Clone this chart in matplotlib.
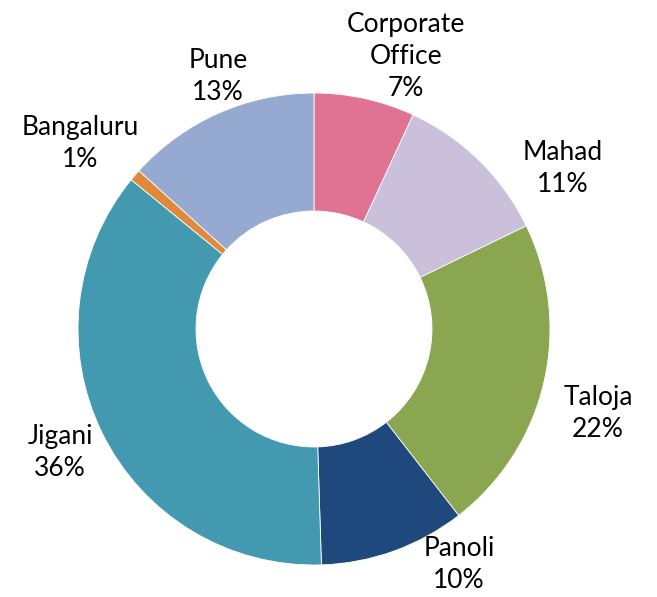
import matplotlib
matplotlib.use("Agg")
import matplotlib.pyplot as plt

sites = ["Corporate\nOffice", "Mahad", "Taloja", "Panoli", "Jigani", "Bangaluru", "Pune"]
shares = [6.9, 10.9, 21.7, 10.0, 36.4, 0.8, 13.3]
pct_labels = ["7%", "11%", "22%", "10%", "36%", "1%", "13%"]
colors = ["#E07393", "#CBC0DC", "#8BA651", "#1F497D", "#4399B0", "#E0883C", "#95A9D1"]

# where each label sits (data units, pie radius = 1)
label_pos = [(0.39, 1.153), (1.055, 0.678), (1.203, -0.356), (0.614, -1.0),
             (-1.076, -0.523), (-0.992, 0.788), (-0.407, 1.072)]

plt.rcParams['font.family'] = ['Lato', 'DejaVu Sans']

fig = plt.figure(figsize=(6.57, 5.97), dpi=100)
ax = fig.add_axes([(314 - 236) / 657, (597 - 329 - 236) / 597, 472 / 657, 472 / 597])

ax.pie(shares, colors=colors, startangle=90, counterclock=False, radius=1,
       wedgeprops=dict(width=0.5, edgecolor="white", linewidth=0.6))
ax.set_xlim(-1, 1)
ax.set_ylim(-1, 1)
ax.set_aspect("equal")
ax.axis("off")

for name, pct, (x, y) in zip(sites, pct_labels, label_pos):
    ax.text(x, y, name + "\n" + pct, ha="center", va="center", fontsize=19,
            color="black", linespacing=1.35)

fig.savefig("out.png", dpi=100)
